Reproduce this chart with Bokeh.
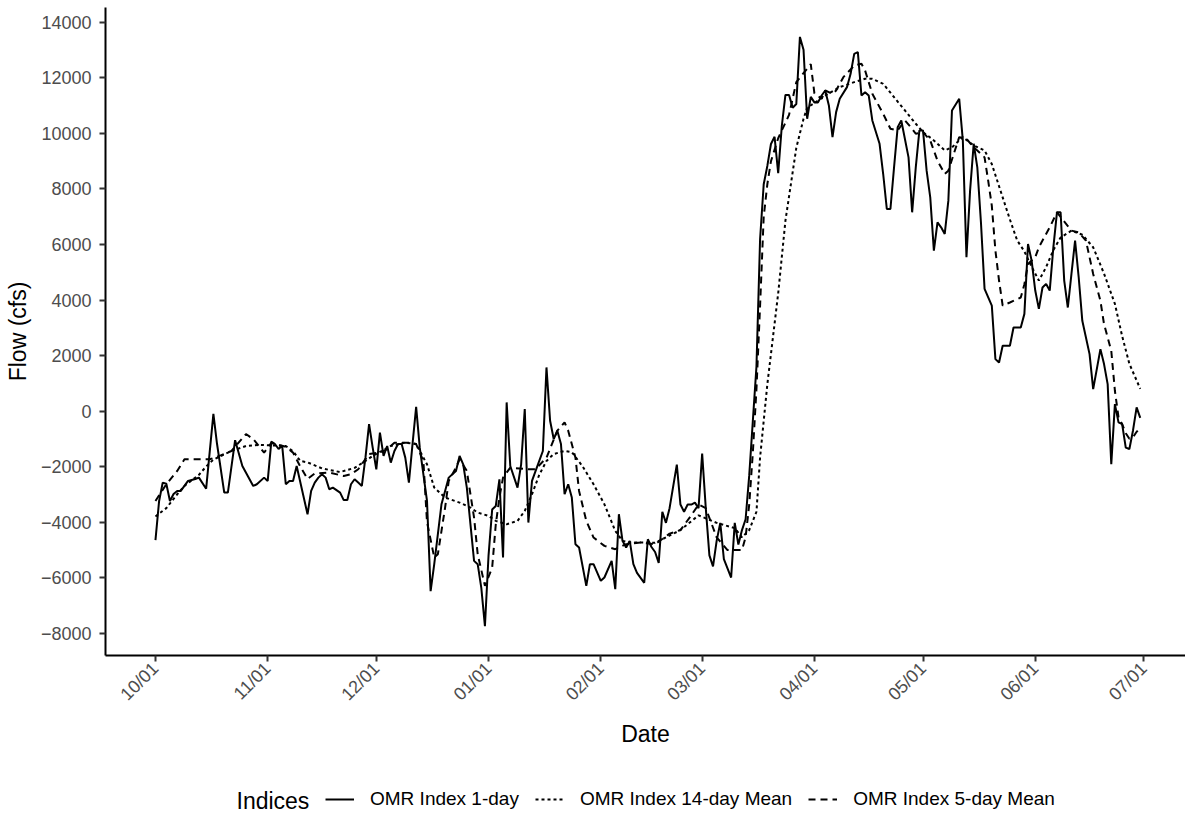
import math
from datetime import datetime, timedelta

from bokeh.plotting import figure
from bokeh.layouts import column
from bokeh.models import Range1d, FixedTicker, Legend, LegendItem, Label
from bokeh.embed import file_html
from bokeh.resources import INLINE

# ---------------- data ----------------
season_start = "2018-10-01"

# OMR Index 1-day  (day offset from season start, flow in cfs)
day1_days = [0, 1, 2, 3, 4, 5, 6, 7, 9, 11, 12, 14, 16, 17, 19, 20, 22, 24, 27, 28,
             30, 31, 32, 33, 34, 35, 36, 37, 38, 39, 42, 43, 44, 45, 46, 47, 48, 49, 51, 52,
             53, 54, 55, 56, 57, 58, 59, 60, 61, 62, 63, 64, 65, 66, 67, 68, 69, 70, 71, 72,
             73, 75, 76, 77, 79, 80, 81, 83, 84, 85, 86, 88, 89, 90, 91, 92, 93, 94, 95, 96,
             97, 98, 100, 101, 102, 103, 104, 105, 107, 108, 109, 110, 111, 112, 113, 114, 115, 116, 117, 119,
             120, 121, 123, 124, 126, 127, 128, 129, 130, 131, 132, 133, 135, 136, 137, 138, 139, 140, 141, 142,
             144, 145, 146, 147, 148, 149, 150, 151, 152, 153, 154, 155, 156, 157, 159, 160, 161, 162, 163, 164,
             165, 166, 167, 168, 169, 170, 171, 172, 173, 174, 175, 176, 177, 178, 179, 180, 181, 182, 183, 184,
             185, 186, 187, 188, 189, 191, 192, 193, 194, 195, 196, 197, 198, 200, 201, 202, 203, 204, 205, 206,
             208, 209, 210, 211, 212, 213, 214, 215, 216, 217, 218, 219, 220, 222, 223, 224, 225, 226, 227, 228,
             229, 231, 232, 233, 234, 236, 237, 239, 240, 241, 242, 243, 244, 245, 246, 247, 248, 249, 250, 251,
             252, 253, 254, 255, 256, 258, 259, 261, 262, 263, 264, 265, 266, 267, 268, 269, 270, 271, 272]
day1_flow = [-4650, -3250, -2580, -2620, -3240, -2990, -2880, -2880, -2520, -2450, -2400, -2800, -100, -1180, -2940, -2940, -1050, -1980, -2700, -2640,
             -2400, -2520, -1100, -1190, -1370, -1250, -2640, -2520, -2520, -1980, -3720, -2880, -2580, -2400, -2280, -2400, -2820, -2760, -2940, -3210,
             -3210, -2640, -2460, -2580, -2700, -1680, -470, -1320, -2100, -780, -1620, -1260, -1860, -1440, -1190, -1190, -1680, -2580, -1190, 150,
             -1320, -3240, -6490, -5520, -3360, -2880, -2400, -2160, -1620, -1920, -2760, -5400, -5520, -6370, -7750, -5200, -3550, -3420, -2460, -5280,
             310, -1980, -2760, -1920, 70, -4020, -2520, -2160, -1440, 1570, -350, -1010, -710, -1190, -3000, -2640, -3120, -4800, -4920, -6300,
             -5520, -5520, -6120, -6000, -5400, -6420, -3720, -4680, -4920, -4680, -5520, -5830, -6190, -4620, -4900, -5080, -5470, -3630, -4030, -3500,
             -1930, -3370, -3630, -3370, -3370, -3300, -3500, -1530, -3500, -5200, -5600, -4680, -4030, -5340, -6000, -4030, -4810, -4290, -3900, -2320,
             -350, 1610, 6200, 8170, 8830, 9620, 9880, 8570, 10270, 11390, 11390, 10930, 11060, 13480, 13020, 10530, 11320, 11120, 11120, 11370,
             11550, 11010, 9870, 10770, 11250, 11670, 12150, 12870, 12930, 11370, 11490, 11370, 10470, 9630, 8540, 7280, 7280, 8780, 10230, 10470,
             9140, 7160, 8780, 10110, 10110, 8660, 7700, 5780, 6800, 6620, 6380, 7580, 10830, 11250, 9750, 5540, 7940, 9630, 8780, 6800,
             4400, 3800, 1870, 1750, 2350, 2350, 3010, 3010, 3500, 6020, 5420, 4340, 3680, 4450, 4580, 4340, 5900, 7160, 7160, 4700,
             3730, 4940, 6140, 4820, 3250, 2050, 790, 2230, 1690, 970, -1920, 250, -410, -470, -1320, -1370, -700, 130, -250]

# OMR Index 14-day Mean
day14_days = [0, 3, 6, 8, 12, 14, 16, 21, 25, 29, 32, 36, 38, 40, 42, 46, 51, 55, 58, 60,
              65, 69, 72, 75, 77, 80, 84, 87, 89, 92, 94, 97, 100, 102, 104, 106, 108, 110, 113, 115,
              118, 121, 124, 127, 129, 131, 135, 138, 145, 150, 155, 160, 162, 164, 166, 167, 169, 172, 174, 177,
              179, 180, 182, 185, 189, 193, 196, 198, 201, 204, 207, 210, 212, 215, 218, 220, 223, 226, 229, 231,
              233, 236, 238, 240, 242, 244, 246, 248, 250, 253, 256, 259, 262, 265, 267, 269, 272]
day14_flow = [-3800, -3500, -3000, -2700, -2300, -2000, -1750, -1440, -1260, -1220, -1240, -1260, -1450, -1800, -1850, -2070, -2200, -2050, -1800, -1620,
              -1260, -1140, -1190, -1920, -2760, -3120, -3300, -3480, -3660, -3780, -3960, -4080, -3960, -3600, -3000, -2300, -1800, -1550, -1440, -1480,
              -2000, -2640, -3360, -4320, -4680, -4740, -4740, -4750, -4290, -3760, -4030, -4220, -4550, -4290, -3630, -1670, 960, 4240, 6860, 9480,
              10530, 10930, 11100, 11370, 11670, 11850, 11970, 11970, 11790, 11310, 10830, 10350, 10050, 9750, 9390, 9500, 9870, 9570, 9390, 8900,
              8100, 6900, 6150, 5750, 5200, 4700, 5180, 5800, 6250, 6500, 6350, 5900, 4950, 3860, 2700, 1700, 800]

# OMR Index 5-day Mean
day5_days = [0, 3, 6, 8, 15, 18, 21, 25, 27, 30, 32, 36, 38, 40, 42, 44, 48, 52, 54, 56,
             59, 62, 64, 66, 70, 72, 74, 75, 77, 78, 80, 81, 83, 84, 86, 88, 89, 91, 93, 94,
             95, 96, 98, 103, 105, 108, 111, 113, 114, 116, 117, 119, 121, 124, 127, 130, 134, 138, 142, 145,
             148, 150, 152, 155, 158, 162, 163, 164, 165, 166, 167, 168, 169, 170, 172, 175, 177, 181, 182, 184,
             185, 187, 188, 190, 193, 195, 196, 198, 201, 203, 205, 207, 209, 210, 212, 214, 216, 218, 219, 222,
             224, 226, 227, 229, 230, 231, 232, 233, 234, 236, 239, 240, 241, 243, 244, 247, 249, 253, 255, 257,
             259, 261, 262, 264, 265, 266, 267, 268, 269, 270, 271, 272]
day5_flow = [-3240, -2640, -2160, -1740, -1740, -1600, -1440, -830, -1010, -1500, -1150, -1290, -1500, -2000, -2450, -2250, -2220, -2340, -2280, -2100,
             -1550, -1500, -1370, -1140, -1140, -1190, -1800, -4000, -5280, -5160, -3480, -2520, -2040, -1740, -2160, -3840, -5160, -6300, -5640, -4080,
             -3120, -2400, -2040, -2100, -2100, -1680, -710, -410, -710, -1680, -2880, -3960, -4560, -4860, -4980, -4800, -4740, -4800, -4420, -4290,
             -3760, -3370, -3500, -4550, -5010, -5010, -4550, -3370, -1500, 800, 3800, 7000, 8170, 9000, 9830, 10670, 11850, 12500, 11450, 11250,
             11550, 11430, 11550, 12030, 12450, 12510, 12270, 11430, 10710, 10170, 10110, 10470, 10170, 9990, 10050, 9750, 9020, 8540, 8660, 9870,
             9810, 9500, 9390, 9140, 8300, 7400, 5780, 4700, 3800, 3910, 4090, 4570, 5300, 5540, 5900, 6620, 7160, 6500, 6440, 6140,
             4940, 3970, 3130, 2170, 730, -230, -470, -800, -1000, -950, -750, -600]

tick_dates = ["2018-10-01", "2018-11-01", "2018-12-01", "2019-01-01", "2019-02-01",
              "2019-03-01", "2019-04-01", "2019-05-01", "2019-06-01", "2019-07-01"]
tick_labels = ["10/01", "11/01", "12/01", "01/01", "02/01",
               "03/01", "04/01", "05/01", "06/01", "07/01"]
y_ticks = [-8000, -6000, -4000, -2000, 0, 2000, 4000, 6000, 8000, 10000, 12000, 14000]

series_names = ["OMR Index 1-day", "OMR Index 14-day Mean", "OMR Index 5-day Mean"]
legend_title = "Indices"

# ---------------- build ----------------
start = datetime.strptime(season_start, "%Y-%m-%d")
EPOCH = datetime(1970, 1, 1)


def to_dates(days):
    return [start + timedelta(days=d) for d in days]


def to_ms(dt):
    return (dt - EPOCH).total_seconds() * 1000.0


FONT = "Liberation Sans"
W = 1185
H_MAIN = 760
H_LEG = 813 - H_MAIN
FRAME_LEFT = 105
LW = 2.0
DASH5 = "7 5"
DOT14 = "3 3"

p = figure(width=W, height=H_MAIN, output_backend="svg", toolbar_location=None,
           x_axis_type="datetime",
           x_range=Range1d(start + timedelta(days=-13.8), start + timedelta(days=284.5)),
           y_range=Range1d(-8810, 14540),
           min_border_left=FRAME_LEFT, min_border_right=0, min_border_top=7,
           min_border_bottom=H_MAIN - 655)

p.background_fill_color = "white"
p.border_fill_color = "white"
p.outline_line_color = None
p.xgrid.visible = False
p.ygrid.visible = False

p.line(to_dates(day1_days), day1_flow, line_color="black", line_width=LW)
p.line(to_dates(day14_days), day14_flow, line_color="black", line_width=LW, line_dash=DOT14)
p.line(to_dates(day5_days), day5_flow, line_color="black", line_width=LW, line_dash=DASH5)

# x axis
tick_ms = [to_ms(datetime.strptime(d, "%Y-%m-%d")) for d in tick_dates]
xa = p.xaxis[0]
xa.ticker = FixedTicker(ticks=tick_ms)
xa.major_label_overrides = {t: lab for t, lab in zip(tick_ms, tick_labels)}
xa.major_label_orientation = math.pi / 4
xa.axis_label = "Date"

ya = p.yaxis[0]
ya.ticker = FixedTicker(ticks=y_ticks)
ya.axis_label = "Flow (cfs)"

for ax in (xa, ya):
    ax.axis_line_color = "black"
    ax.axis_line_width = 2
    ax.major_tick_line_color = "#333333"
    ax.major_tick_line_width = 2
    ax.major_tick_out = 6
    ax.major_tick_in = 0
    ax.minor_tick_line_color = None
    ax.major_label_text_font = FONT
    ax.major_label_text_font_size = "18px"
    ax.major_label_text_color = "#4D4D4D"
    ax.axis_label_text_font = FONT
    ax.axis_label_text_font_size = "23px"
    ax.axis_label_text_font_style = "normal"
    ax.axis_label_text_color = "black"
xa.major_label_standoff = 4
ya.major_label_standoff = 8
xa.axis_label_standoff = 7
ya.axis_label_standoff = 7

# ---------------- legend strip (below the chart) ----------------
# the strip's frame is aligned with the chart frame (starts at FRAME_LEFT)
q = figure(width=W, height=H_LEG, output_backend="svg", toolbar_location=None,
           x_range=Range1d(0, 1), y_range=Range1d(0, 1),
           x_axis_location=None, y_axis_location=None,
           min_border_left=FRAME_LEFT, min_border_right=0, min_border_top=0, min_border_bottom=0)
q.background_fill_color = "white"
q.border_fill_color = "white"
q.outline_line_color = None
q.xgrid.visible = False
q.ygrid.visible = False

# key renderers reuse the series (they fall outside this strip's ranges, only their keys show)
k1 = q.line(day1_days, day1_flow, line_color="black", line_width=LW)
k14 = q.line(day14_days, day14_flow, line_color="black", line_width=LW, line_dash=DOT14)
k5 = q.line(day5_days, day5_flow, line_color="black", line_width=LW, line_dash=DASH5)
for k in (k1, k14, k5):
    k.level = "underlay"

legend = Legend(items=[LegendItem(label=series_names[0], renderers=[k1]),
                       LegendItem(label=series_names[1], renderers=[k14]),
                       LegendItem(label=series_names[2], renderers=[k5])],
                orientation="horizontal", location=(325 - FRAME_LEFT, 3))
legend.label_text_font = FONT
legend.label_text_font_size = "19px"
legend.label_text_color = "black"
legend.glyph_width = 29
legend.glyph_height = 20
legend.label_standoff = 16
legend.spacing = 16
legend.padding = 0
legend.margin = 0
legend.border_line_color = None
legend.background_fill_alpha = 0
q.add_layout(legend, "center")

q.add_layout(Label(x=236 - FRAME_LEFT, y=13, x_units="screen", y_units="screen", text=legend_title,
                   text_font=FONT, text_font_size="23px", text_color="black",
                   text_baseline="middle", text_align="left"))

layout = column(p, q, spacing=0)
open("out.html", "w").write(file_html(layout, INLINE))
